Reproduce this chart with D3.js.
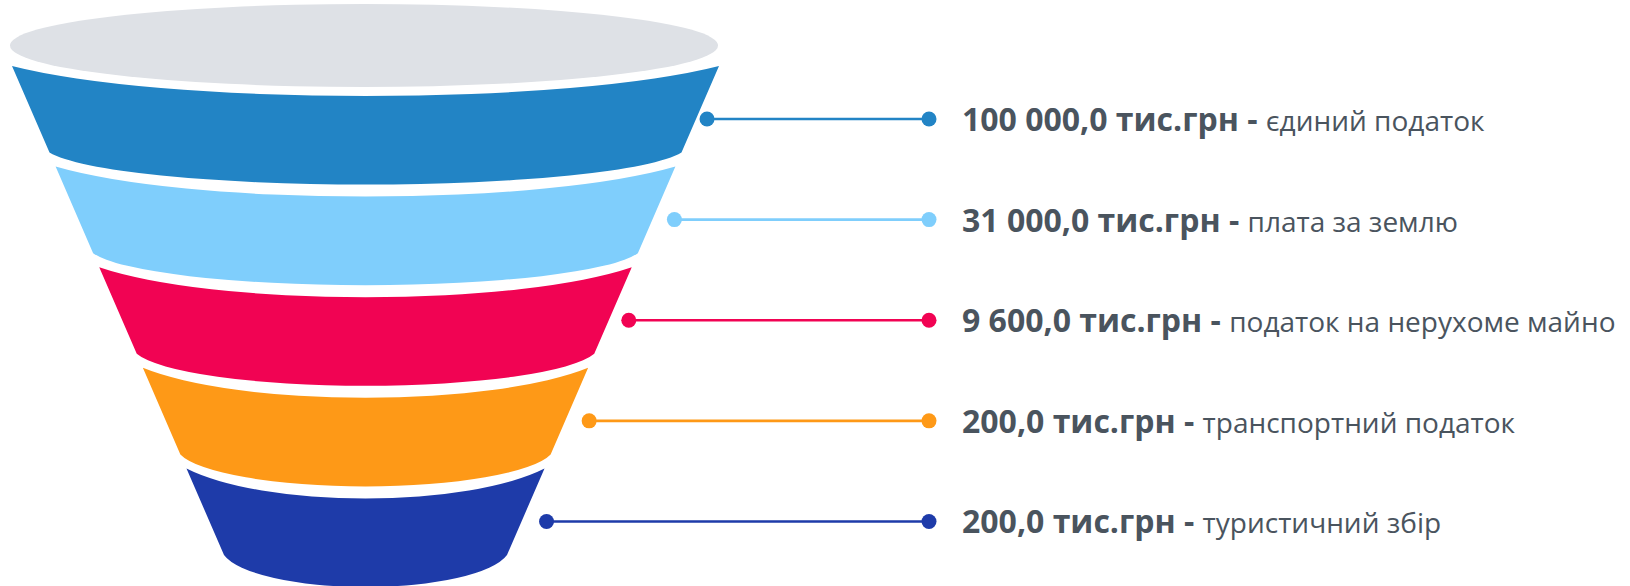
<!DOCTYPE html>
<html>
<head>
<meta charset="utf-8">
<script src="https://cdn.jsdelivr.net/npm/d3@7"></script>
<style>
  body { margin: 0; overflow: hidden; background: #fff; }
  svg { display: block; }
</style>
</head>
<body>
<svg id="main-svg" width="1630" height="586"></svg>
<script>
'use strict';

// data
const amounts = ['100 000,0', '31 000,0', '9 600,0', '200,0', '200,0'];
const unit = 'тис.грн';
const taxes = [
    'єдиний податок',
    'плата за землю',
    'податок на нерухоме майно',
    'транспортний податок',
    'туристичний збір',
];
const colors = ['#2284c5', '#7fcefc', '#f10353', '#fe9917', '#1e3ba9'];

// layout
const cx = 365.5;
const funnelTop = 66, funnelBottom = 555;
const dotGap = [11, 22, 20, 24, 25];   // space between band edge and first dot
const rightDotX = 929;
const textX = 962;

const svg = d3.select('#main-svg');

const y = d3.scaleBand()
    .domain(taxes)
    .range([funnelTop, funnelBottom])
    .paddingInner(0.14)
    .paddingOuter(0);

// half width of the cone at a given y
const halfW = d3.scaleLinear()
    .domain([funnelTop, funnelBottom])
    .range([353.5, 141.5]);

const topSag = 30, botSag = 32;

// elliptic arc between two corners, bulging down by sag
const arc = (x0, x1, yy, sag, k) => {
    const w = Math.abs(x1 - x0) / 2;
    const rx = w * k;
    const ry = sag / (1 - Math.sqrt(1 - 1 / (k * k)));
    return `A${rx},${ry} 0 0 ${x0 < x1 ? 0 : 1} ${x1},${yy}`;
};

const bandPath = (name) => {
    const y0 = y(name), y1 = y(name) + y.bandwidth();
    const l0 = cx - halfW(y0), r0 = cx + halfW(y0);
    const l1 = cx - halfW(y1), r1 = cx + halfW(y1);
    return `M${l0},${y0}` +
        arc(l0, r0, y0, topSag, 1.15) +
        `L${r1},${y1}` +
        arc(r1, l1, y1, botSag, 1.02) +
        'Z';
};

// top rim
svg.append('ellipse')
    .attr('cx', 364)
    .attr('cy', 45.5)
    .attr('rx', 354)
    .attr('ry', 41.5)
    .attr('fill', '#dee1e6');

// funnel bands
svg.selectAll('path.band')
    .data(taxes)
    .enter().append('path')
    .attr('class', 'band')
    .attr('d', bandPath)
    .attr('fill', (d, i) => colors[i]);

const rowY = (name) => y(name) + 53;
const leftDotX = (d, i) => cx + halfW(rowY(d)) + dotGap[i];

// connectors
const conn = svg.selectAll('g.conn')
    .data(taxes)
    .enter().append('g')
    .attr('class', 'conn');

conn.append('line')
    .attr('x1', leftDotX)
    .attr('x2', rightDotX)
    .attr('y1', rowY)
    .attr('y2', rowY)
    .attr('stroke', (d, i) => colors[i])
    .attr('stroke-width', 2.6);

conn.append('circle')
    .attr('cx', leftDotX)
    .attr('cy', rowY)
    .attr('r', 7.5)
    .attr('fill', (d, i) => colors[i]);

conn.append('circle')
    .attr('cx', rightDotX)
    .attr('cy', rowY)
    .attr('r', 7.5)
    .attr('fill', (d, i) => colors[i]);

// labels
const label = svg.selectAll('text.label')
    .data(taxes)
    .enter().append('text')
    .attr('class', 'label')
    .attr('x', textX)
    .attr('y', d => rowY(d) + 12)
    .attr('fill', '#4a545e')
    .style('font-family', '"Open Sans", sans-serif');

label.append('tspan')
    .style('font-weight', 700)
    .style('font-size', '32px')
    .text((d, i) => `${amounts[i]} ${unit} - `);

label.append('tspan')
    .style('font-weight', 400)
    .style('font-size', '28px')
    .text(d => d);
</script>
</body>
</html>
